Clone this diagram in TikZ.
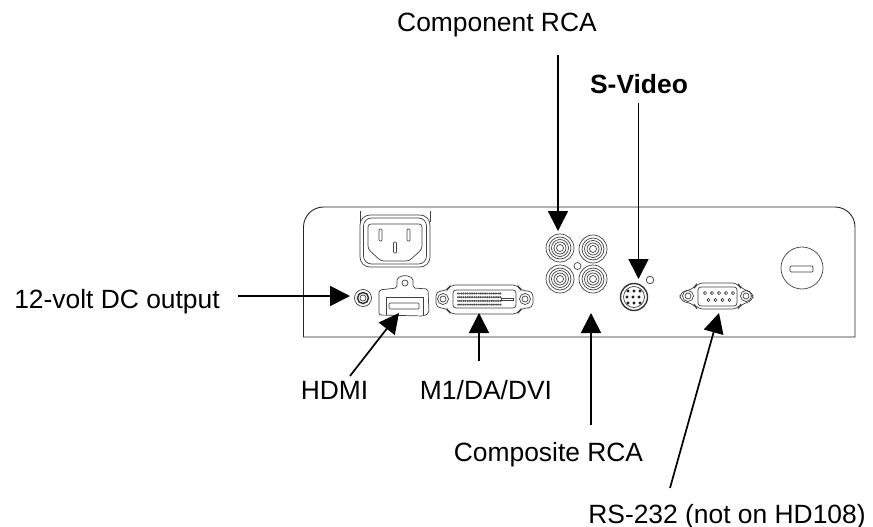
\documentclass[tikz,border=0pt]{standalone}
\usepackage{fontspec}
\setmainfont{Liberation Sans}
\usetikzlibrary{arrows.meta}
\tikzset{
  gray line/.style={draw=black!75,line width=.7pt},
  label text/.style={inner sep=0pt,anchor=base,font=\fontsize{26.4}{30}\selectfont},
  pointer/.style={draw,line width=1.7pt,-{Triangle[width=20pt,length=20pt]}},
  pin dot/.style={circle,draw,line width=.5pt,inner sep=0pt,minimum size=3.2pt},
}
\newcommand{\rcajack}[1]{
  \foreach \r in {14,11,8.5,6,3.5}
    \draw [gray line] (#1) circle (\r);
}
\newcommand{\screw}[1]{
  \draw [gray line] (#1) circle (5.5);
  \draw [gray line] (#1) circle (3);
}
\begin{document}
\begin{tikzpicture}[x=1pt,y=-1pt]
  \useasboundingbox (0,0) rectangle (873,527);

  % panel
  \draw [line width=.9pt,black!85] (303.5,337) [rounded corners=20pt] -- (303.5,207) -- (855,207) [sharp corners] -- (855,337) -- cycle;

  % power inlet
  \draw [gray line] (360,211) -- (360,222) (430,211) -- (430,222);
  \draw [gray line,rounded corners=10pt] (360,215) rectangle (430,267);
  \draw [gray line,rounded corners=8pt] (363.5,218) rectangle (426.5,264);
  \draw [gray line,rounded corners=3pt] (368,224) -- (422,224) -- (422,249) -- (409,261) -- (381,261) -- (368,249) -- cycle;
  \draw [gray line,rounded corners=1pt] (379,229) rectangle (382,241);
  \draw [gray line,rounded corners=1pt] (407,229) rectangle (410,241);
  \draw [gray line,rounded corners=1pt] (393.5,242) rectangle (396.5,253);

  % 12 volt jack
  \draw [gray line] (363,298) circle (8.5);
  \draw [line width=1.5pt,black!80] (363,298) circle (5.5);
  \draw [gray line] (363,298) circle (3);

  % hdmi
  \draw [gray line,rounded corners=2pt] (379,315) -- (379,290) -- (397,288) -- (397,278) -- (405,275) -- (413,278) -- (413,288) -- (428,289) -- (429,313) -- (424,316) -- cycle;
  \draw [gray line] (386,315) -- (386,297) -- (423,297) -- (423,315);
  \draw [gray line,rounded corners=1pt] (389,303) rectangle (419,309);
  \draw [gray line] (405,283) circle (3);

  % dvi
  \draw [gray line,rounded corners=5pt] (436,291) -- (447,291) -- (450,285) -- (518,285) -- (521,291) -- (533,291) -- (533,308) -- (521,308) -- (518,314) -- (450,314) -- (447,308) -- (436,308) -- cycle;
  \draw [gray line,rounded corners=3pt] (453,290) rectangle (516,308);
  \screw{443,299}
  \screw{525,299}
  \foreach \x in {0,...,23}
    \foreach \y in {0,1,2,3}
      \fill [black!70] (458+\x*1.85,293.5+\y*3.7) circle (1.1);
  \draw [gray line] (501,298) rectangle (513,300);

  % rca jacks
  \rcajack{560,248}
  \rcajack{593,249}
  \rcajack{560,279}
  \rcajack{593,279}
  \draw [gray line] (577.5,266) circle (3.5);

  % s-video
  \draw [gray line] (650,280) circle (3.8);
  \draw [line width=1.4pt,black!80] (634,297) circle (13.5);
  \draw [gray line] (634,297) circle (10.5);
  \foreach \x/\y in {628/291,634/291,640/291,627/297,633/297,639/297,628/303,634/303,640/303}
    \node [pin dot,fill=black!70,minimum size=2.4pt] at (\x,\y) {};

  % rs-232
  \draw [gray line,rounded corners=6pt] (680,292) -- (694,289) -- (697,283) -- (738,283) -- (741,289) -- (753,292) -- (753,301) -- (741,304) -- (738,309) -- (697,309) -- (694,304) -- (680,301) -- cycle;
  \draw [gray line,rounded corners=3pt] (698,287) rectangle (737,306);
  \screw{688,296}
  \screw{746,296}
  \foreach \x in {705,712,719,726,733}
    \node [pin dot] at (\x,293) {};
  \foreach \x in {708.5,715.5,722.5,729.5}
    \node [pin dot] at (\x,300) {};

  % knob
  \draw [gray line] (802,268) circle (21);
  \draw [gray line,rounded corners=1pt] (790,266) rectangle (813,272);

  % labels
  \node [label text] (compnt) at (497,32) {Component RCA};
  \node [label text,font=\fontsize{26.4}{30}\selectfont\bfseries] (svideo) at (639,93) {S-Video};
  \node [label text] (dcout) at (117,308) {12-volt DC output};
  \node [label text] (hdmi) at (334.5,399) {HDMI};
  \node [label text] (dvi) at (486,399) {M1/DA/DVI};
  \node [label text] (compst) at (548.5,461) {Composite RCA};
  \node [label text] (rs) at (727,523) {RS-232 (not on HD108)};

  % arrow ends
  \coordinate (a1) at (558,55);
  \coordinate (a2) at (558,231);
  \coordinate (b1) at (638.5,103);
  \coordinate (b2) at (638.5,279);
  \coordinate (c1) at (238,296);
  \coordinate (c2) at (350,296);
  \coordinate (d1) at (350,376);
  \coordinate (d2) at (399,313);
  \coordinate (e1) at (479,361);
  \coordinate (e2) at (479,313);
  \coordinate (f1) at (591,425);
  \coordinate (f2) at (591,313);
  \coordinate (g1) at (670,488);
  \coordinate (g2) at (719,313);

  \path
  (a1) edge [pointer] (a2)
  (b1) edge [pointer] (b2)
  (c1) edge [pointer] (c2)
  (d1) edge [pointer] (d2)
  (e1) edge [pointer] (e2)
  (f1) edge [pointer] (f2)
  (g1) edge [pointer] (g2)
  ;
\end{tikzpicture}
\end{document}
